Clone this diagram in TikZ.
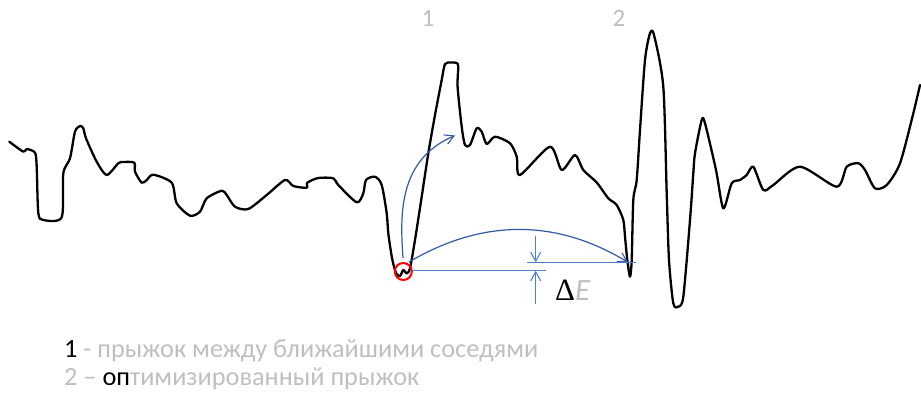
\documentclass[tikz,border=0pt]{standalone}
\usepackage{fontspec}
\setmainfont{Carlito}
\newfontfamily\deltafont{Liberation Serif}
\usetikzlibrary{arrows.meta}
\definecolor{txtgray}{RGB}{191,191,191}
\definecolor{lineblue}{RGB}{79,129,199}
\definecolor{curveblue}{RGB}{52,88,170}
\tikzset{
  signal/.style={line width=2.3pt, black, line join=round, line cap=round},
  bluestraight/.style={line width=1.2pt, lineblue},
  bluecurve/.style={line width=1.2pt, curveblue},
  barb/.style={-{Straight Barb[length=9pt,width=10pt,line width=1.1pt]}},
  graylabel/.style={text=txtgray, font=\fontsize{25}{29}\selectfont, inner sep=0pt},
  legend/.style={text=txtgray, font=\fontsize{26.3}{30}\selectfont, inner sep=0pt, anchor=base west}
}
\begin{document}
\begin{tikzpicture}[x=1pt,y=-1pt]
\useasboundingbox (0,0) rectangle (921,398);
% main signal
\draw[signal] plot[smooth, tension=0.45] coordinates {
(9.3,141.7) (23.3,151.7) (26.7,149) (35,152.7) (36.7,166.7) (38.3,213) (43.3,220) (61.7,217.3)
(63.3,173.3) (70,158.3) (75,131.7) (80,126) (83.3,128.3) (86,138.3) (96.7,161.7) (106.7,175)
(118.3,163.3) (123.3,162) (134.3,162.7) (135,171.7) (141.7,182.7) (146.7,180) (153.3,174.7)
(171.7,182.7) (176.7,203.3) (190,215.7) (200,211.7) (206.7,198.3) (221.7,190.7) (226.7,195)
(235,206.7) (248.3,209) (266.7,195) (285,180) (293.3,186) (306.7,187.7) (307.3,182.7) (318.3,178)
(333.3,178.3) (338.3,185) (356.7,202.3) (363.3,193.3) (366,180) (375,176.7) (381.7,185)
(386.7,213.3) (388.3,233.3) (392,258) (396,273) (400,276) (403.3,270) (406.7,273.3) (410,268.3)
(415,240) (421.7,196.7) (428.3,153.3) (435,115) (441.7,80) (445,64) (451,62.5) (456.7,63) (458.3,67)
(457.6,86.7) (461.7,126.7) (465,145) (470,145) (476.7,128.3) (481.7,131.7) (486.7,144)
(495,136.7) (510,143.3) (516.7,156.7) (520,175) (550,146.7) (561.7,170) (575,155) (583.3,170)
(596.7,182.5) (608.3,198.3) (616.7,205) (623.3,220) (625,236.7) (627.3,260) (630,276.7)
(631.7,260) (633.3,200) (636.7,180) (640,130) (645,60) (650,33.3) (654,35) (663.3,86.7)
(666.7,193.3) (669,260) (673.3,303.3) (678.3,306.7) (683.3,296.7) (690,220) (693.3,173.3)
(695,153.3) (701.7,120) (705,123.3) (716,170) (723.3,208.3) (731.7,183.3) (740,180) (746.7,175)
(753.3,166.7) (763.3,190) (773.3,185) (800,166.7) (836.7,186.7) (846.7,166.7) (858.3,163.3)
(865,170) (875,188.3) (886.7,185) (900,163.3) (913.3,113.3) (920,85)};
% named points
\coordinate (s1) at (403,258);
\coordinate (t1) at (455,135.5);
\coordinate (s2) at (409,262);
\coordinate (t2) at (628,262.3);
\coordinate (h1a) at (412,270.7);
\coordinate (h1b) at (546,270.7);
\coordinate (h2a) at (527,262.3);
\coordinate (h2b) at (636,262.3);
\coordinate (d1) at (535.7,236);
\coordinate (d2) at (535.7,304);
% red marker
\node[draw=red, line width=2pt, circle, minimum size=17pt, inner sep=0pt] (mk) at (403.3,271.5) {};
% blue arrows
\draw[bluecurve, barb] (s1) .. controls (400,215) and (398,160) .. (t1);
\draw[bluecurve, barb] (s2) .. controls (470,226) and (545,212) .. (t2);
\draw[bluestraight] (h1a) -- (h1b);
\draw[bluestraight] (h2a) -- (h2b);
\draw[bluestraight, barb] (d1) -- (535.7,262.3);
\draw[bluestraight, barb] (d2) -- (535.7,270.7);
% Delta E
\node[inner sep=0pt, anchor=base west] (de) at (555,300) {\fontsize{31}{35}\selectfont{\deltafont Δ}\textcolor{txtgray}{\itshape E}};
% top labels
\node[graylabel] (l1) at (428,18) {1};
\node[graylabel] (l2) at (619,18) {2};
% legend
\node[legend] (leg1) at (64,357) {\textcolor{black}{1} - прыжок между ближайшими соседями};
\node[legend] (leg2) at (64,385.5) {2 – \textcolor{black}{оп}тимизированный прыжок};
\end{tikzpicture}
\end{document}
